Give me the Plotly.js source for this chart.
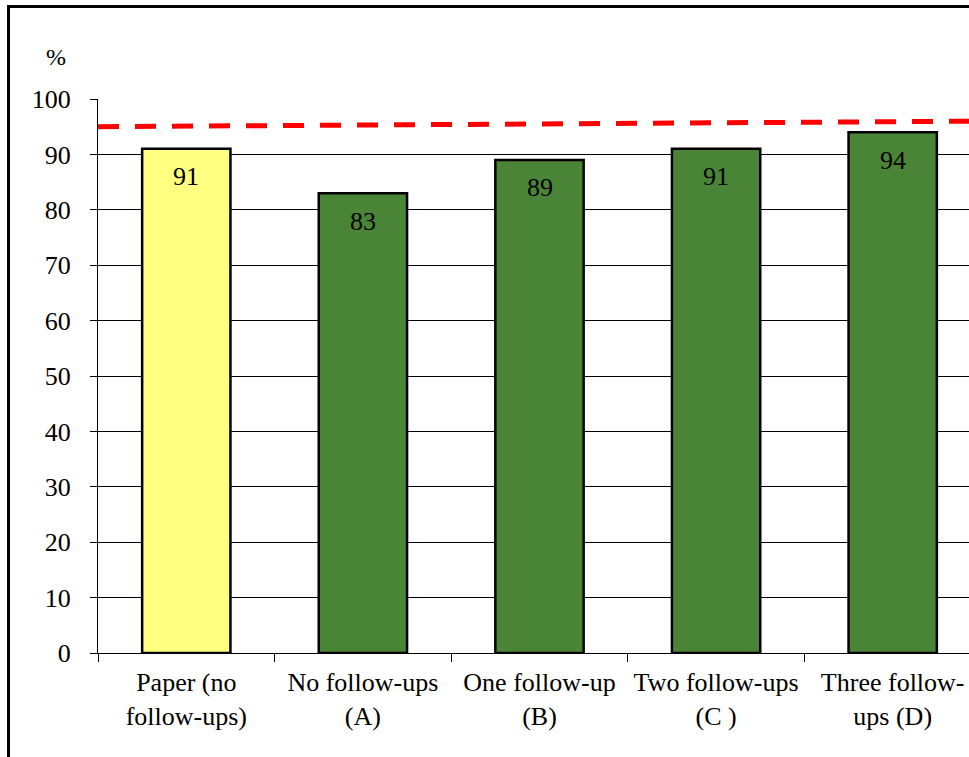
<!DOCTYPE html>
<html>
<head>
<meta charset="utf-8">
<script src="https://cdn.plot.ly/plotly-3.0.1.min.js"></script>
<style>
  html, body { margin: 0; padding: 0; overflow: hidden; background: #fff; width: 969px; height: 757px; }
  #frame { position: absolute; left: 7px; top: 5px; width: 1000px; height: 800px; border: 3px solid #000; background: #fff; }
  #chart { position: absolute; left: 0; top: 0; width: 1000px; height: 780px; }
  #chart svg text { font-family: "Liberation Serif", "DejaVu Serif", "Times New Roman", serif !important; }
</style>
</head>
<body>
<div id="frame"><div id="chart"></div></div>
<script>
// ---- data ----
const categories = [
  "Paper (no<br>follow-ups)",
  "No follow-ups<br>(A)",
  "One follow-up<br>(B)",
  "Two follow-ups<br>(C )",
  "Three follow-<br>ups (D)"
];
const values = [91, 83, 89, 91, 94];
const refLineY = [95, 96];
const yTicks = [0, 10, 20, 30, 40, 50, 60, 70, 80, 90, 100];
const yUnit = "%";

const FONT = "Liberation Serif";
const barColors = ["#FFFF80", "#4A8537", "#4A8537", "#4A8537", "#4A8537"];

const bars = {
  type: "bar",
  x: categories,
  y: values,
  width: 0.5,
  marker: { color: barColors, line: { color: "#000", width: 2.5 } },
  hoverinfo: "skip",
  showlegend: false
};

const refLine = {
  type: "scatter",
  mode: "lines",
  xaxis: "x2",
  yaxis: "y",
  x: [0, 1],
  y: refLineY,
  line: { color: "#FF0000", width: 5, dash: "21px,16px" },
  hoverinfo: "skip",
  showlegend: false
};

const annotations = values.map((v, i) => ({
  x: categories[i], y: v, xref: "x", yref: "y",
  text: String(v), showarrow: false,
  yanchor: "middle", xanchor: "center", yshift: -28,
  font: { family: FONT, size: 26, color: "#000" }
}));
annotations.push({
  xref: "paper", yref: "paper", x: -0.0476, y: 1.076,
  text: yUnit, showarrow: false, xanchor: "center", yanchor: "middle",
  font: { family: FONT, size: 24, color: "#000" }
});

const layout = {
  width: 1000, height: 780,
  margin: { l: 88, r: 29, t: 91, b: 135, pad: 0 },
  paper_bgcolor: "rgba(0,0,0,0)",
  plot_bgcolor: "#fff",
  font: { family: FONT, size: 26, color: "#000" },
  bargap: 0.5,
  xaxis: {
    type: "category",
    tickson: "boundaries",
    ticks: "outside", ticklen: 8, tickcolor: "#000", tickwidth: 1,
    showline: true, linecolor: "#000", linewidth: 1,
    showgrid: false, zeroline: false,
    ticklabelstandoff: 6,
    tickfont: { family: FONT, size: 26, color: "#000" },
    fixedrange: true
  },
  xaxis2: {
    overlaying: "x", range: [0, 1], visible: false, fixedrange: true
  },
  yaxis: {
    range: [0, 100], tickvals: yTicks,
    ticks: "outside", ticklen: 7, tickcolor: "#000", tickwidth: 1,
    showline: true, linecolor: "#000", linewidth: 1,
    showgrid: true, gridcolor: "#000", gridwidth: 1,
    zeroline: false,
    ticklabelstandoff: 14,
    tickfont: { family: FONT, size: 26, color: "#000" },
    fixedrange: true
  },
  annotations: annotations
};

Plotly.newPlot("chart", [bars, refLine], layout, { staticPlot: true, displayModeBar: false });
</script>
</body>
</html>
